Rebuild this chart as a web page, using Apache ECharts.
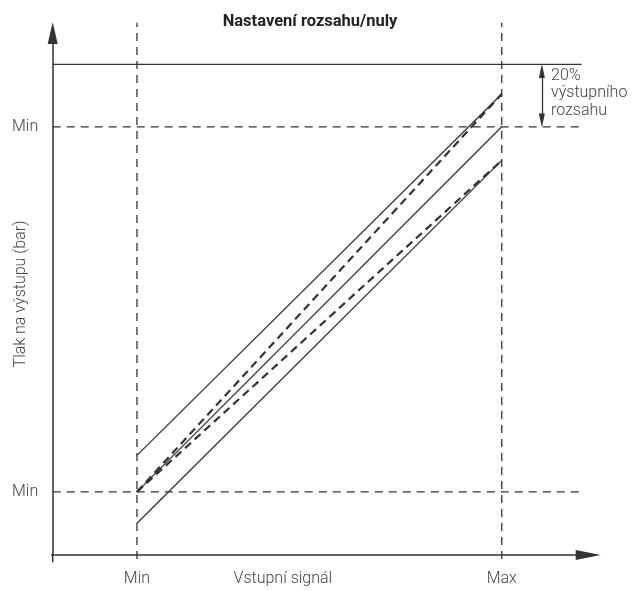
<!DOCTYPE html>
<html>
<head>
<meta charset="utf-8">
<script src="https://cdn.jsdelivr.net/npm/echarts@6/dist/echarts.min.js"></script>
<style>html,body{margin:0;padding:0;background:#fff}#c{width:644px;height:591px}</style>
</head>
<body>
<div id="c"></div>
<script>
// ---- data (signal and pressure in % of range; Min = 0, Max = 100) ----
const titleText = 'Nastavení rozsahu/nuly';
const xAxisName = 'Vstupní signál';
const yAxisName = 'Tlak na výstupu (bar)';
const xTickValues = [0, 100];
const xTickLabels = ['Min', 'Max'];
const xNameValue = 40;
const yTickValues = [0, 100];
const yTickLabels = ['Min', 'Min'];
const annotationLines = ['20%', 'výstupního', 'rozsahu'];

const nominalLine   = [[0, 0], [100, 100]];
const zeroUpLine    = [[0, 10], [100, 109]];
const zeroDownLine  = [[0, -8.6], [100, 90.8]];
const spanUpLine    = [[0, 0], [100, 109]];
const spanDownLine  = [[0, 0], [100, 90.8]];
const topLimitLine  = [[-23.1, 117.1], [121.9, 117.1]];
const minRefLine    = [[-23.1, 0], [121.9, 0]];
const maxRefLine    = [[-23.1, 100], [121.9, 100]];
const xMinRefLine   = [[0, -18.4], [0, 128.5]];
const xMaxRefLine   = [[100, -18.4], [100, 128.5]];
const xAxisStub     = [[-25.2, -17.3], [-23.1, -17.3]];
const yAxisStub     = [[-23.1, -19.3], [-23.1, -17.3]];
const spanArrow     = [[111, 101.7], [111, 115.3]];

const ink = '#333';
const txt = '#444';
const font = 'Roboto';

function seg(data, opts) {
  return Object.assign({
    type: 'line', data: data, showSymbol: false, symbol: 'none', clip: false,
    silent: true, animation: false,
    lineStyle: { color: ink, width: 1.3 }
  }, opts || {});
}

const chart = echarts.init(document.getElementById('c'), null, { renderer: 'canvas' });
chart.setOption({
  animation: false,
  title: {
    text: titleText, left: 305, top: 8, textAlign: 'center',
    textStyle: { fontFamily: font, fontSize: 16.5, fontWeight: 'bold', color: '#222' }
  },
  grid: { left: 52.7, right: 55.8, top: 33, bottom: 36, containLabel: false, outerBoundsMode: 'none' },
  xAxis: {
    type: 'value', min: -23.1, max: 123.7,
    splitLine: { show: false },
    axisTick: { show: false },
    axisLine: { show: true, onZero: false, lineStyle: { color: ink, width: 1.5 },
      symbol: ['none', 'triangle'], symbolSize: [10, 25] },
    axisLabel: {
      customValues: xTickValues.concat([xNameValue]),
      margin: 16, fontFamily: font, fontSize: 16, fontWeight: 300, color: txt,
      formatter: function (v) {
        const i = xTickValues.indexOf(v);
        return i >= 0 ? xTickLabels[i] : (v === xNameValue ? xAxisName : '');
      }
    }
  },
  yAxis: {
    type: 'value', min: -17.3, max: 125.7,
    splitLine: { show: false },
    axisTick: { show: false },
    axisLine: { show: true, onZero: false, lineStyle: { color: ink, width: 1.5 },
      symbol: ['none', 'triangle'], symbolSize: [10, 22] },
    axisLabel: {
      customValues: yTickValues,
      margin: 14.5, fontFamily: font, fontSize: 16, fontWeight: 300, color: txt,
      formatter: function (v) {
        const i = yTickValues.indexOf(v);
        return i >= 0 ? yTickLabels[i] : '';
      }
    },
    name: yAxisName, nameLocation: 'middle', nameRotate: 90, nameGap: 24,
    nameMoveOverlap: false,
    nameTextStyle: { fontFamily: font, fontSize: 16, fontWeight: 300, color: txt }
  },
  series: [
    seg(xAxisStub, { lineStyle: { color: ink, width: 1.5 } }),
    seg(yAxisStub, { lineStyle: { color: ink, width: 1.5 } }),
    seg(topLimitLine),
    seg(minRefLine, { lineStyle: { color: ink, width: 1.3, type: [8, 6] } }),
    seg(maxRefLine, { lineStyle: { color: ink, width: 1.3, type: [8, 6] } }),
    seg(xMinRefLine, { lineStyle: { color: ink, width: 1.3, type: [8, 6] } }),
    seg(xMaxRefLine, { lineStyle: { color: ink, width: 1.3, type: [8, 6] } }),
    seg(nominalLine),
    seg(zeroUpLine),
    seg(zeroDownLine),
    seg(spanUpLine, { lineStyle: { color: ink, width: 2.2, type: [8, 5] } }),
    seg(spanDownLine, { lineStyle: { color: ink, width: 2.2, type: [8, 5] } }),
    {
      type: 'line', data: [], silent: true, animation: false,
      markLine: {
        silent: true, animation: false,
        symbol: ['triangle', 'triangle'], symbolSize: [6, 14],
        label: { show: false },
        lineStyle: { color: ink, width: 1.3, type: 'solid' },
        data: [[{ coord: spanArrow[0] }, { coord: spanArrow[1] }]]
      }
    }
  ],
  graphic: [{
    type: 'text', left: 551, top: 67,
    style: {
      text: annotationLines.join('\n'), fontFamily: font, fontSize: 16, fontWeight: 300,
      lineHeight: 17.5, fill: txt
    }
  }]
});
</script>
</body>
</html>
